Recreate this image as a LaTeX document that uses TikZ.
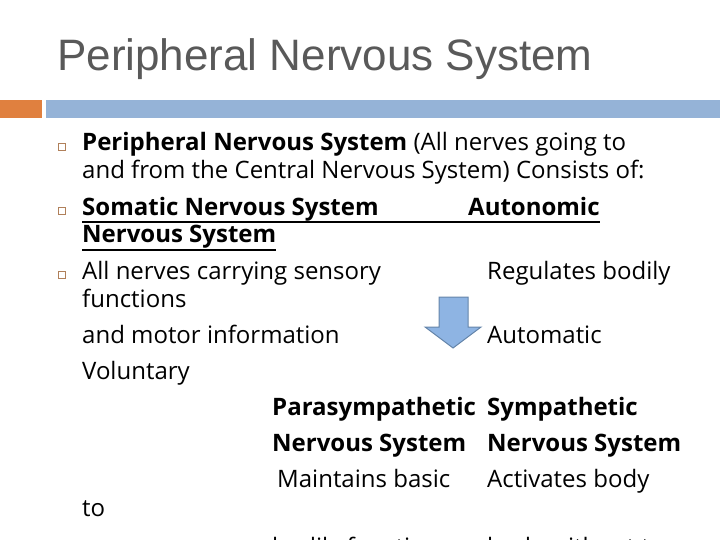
\documentclass[tikz,border=0pt]{standalone}
\usepackage{fontspec}
\setmainfont{Open Sans}
\newfontfamily\titlefont{Liberation Sans}
\definecolor{titlegray}{HTML}{595959}
\definecolor{barorange}{HTML}{E0803F}
\definecolor{barblue}{HTML}{95B3D7}
\definecolor{bulletc}{HTML}{B0805A}
\definecolor{arrowfill}{HTML}{8EB4E3}
\definecolor{arrowline}{HTML}{6585AA}
\tikzset{
  txt/.style={anchor=west, inner sep=0pt, text height=17pt, text depth=5pt, font=\fontsize{24}{24}\selectfont},
  btxt/.style={txt, font=\fontsize{24}{24}\selectfont\bfseries},
  bul/.style={draw=bulletc, line width=1pt, minimum size=7pt, inner sep=0pt, fill=white}
}
\begin{document}
\begin{tikzpicture}[x=1pt,y=-1pt]
\useasboundingbox (0,0) rectangle (720,540);
\clip (0,0) rectangle (720,540);
\node[anchor=west, inner sep=0pt, text=titlegray, font=\titlefont\fontsize{44}{44}\selectfont] (title) at (57,59) {Peripheral Nervous System};
\fill[barorange] (0,100) rectangle (42,118);
\fill[barblue] (46,100) rectangle (720,118);
\node[bul] (b1) at (62,147) {};
\node[bul] (b2) at (62,211) {};
\node[bul] (b3) at (62,275) {};
\node[txt] (l1) at (82,145) {\textbf{Peripheral Nervous System} (All nerves going to};
\node[txt] (l2) at (82,173) {and from the Central Nervous System) Consists of:};
\node[btxt] (l3) at (82,209) {Somatic Nervous System};
\node[btxt] (l3b) at (468,209) {Autonomic};
\draw[line width=1.2pt] (82,222) -- (600,222);
\node[btxt] (l4) at (82,237) {Nervous System};
\draw[line width=1.2pt] (82,250) -- (276,250);
\node[txt] (l5) at (82,273) {All nerves carrying sensory};
\node[txt] (l5b) at (487,273) {Regulates bodily};
\node[txt] (l6) at (82,301) {functions};
\node[txt] (l7) at (82,337) {and motor information};
\node[txt] (l7b) at (487,337) {Automatic};
\node[txt] (l8) at (82,373) {Voluntary};
\node[btxt] (p1) at (272,409) {Parasympathetic};
\node[btxt] (s1) at (487,409) {Sympathetic};
\node[btxt] (p2) at (272,445) {Nervous System};
\node[btxt] (s2) at (487,445) {Nervous System};
\node[txt] (p3) at (277,481) {Maintains basic};
\node[txt] (s3) at (487,481) {Activates body};
\node[txt] (to) at (82,510) {to};
\node[txt] (p4) at (272,549) {bodily functions};
\node[txt] (s4) at (487,549) {body without t};
\draw[arrowline, fill=arrowfill, line width=1pt] (439,297) -- (468,297) -- (468,327) -- (481,327) -- (453,348) -- (425,327) -- (439,327) -- cycle;
\end{tikzpicture}
\end{document}
